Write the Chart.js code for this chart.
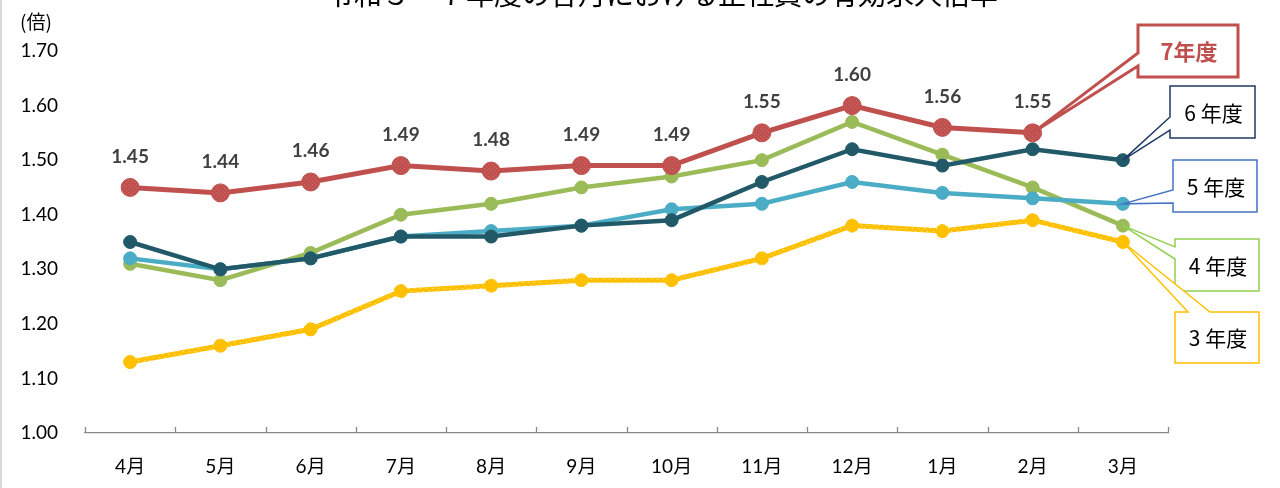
<!DOCTYPE html>
<html><head><meta charset="utf-8">
<script src="https://cdn.jsdelivr.net/npm/chart.js@4/dist/chart.umd.min.js"></script>
<style>
html,body{margin:0;padding:0;background:#fff;}
#wrap{position:relative;width:1280px;height:488px;overflow:hidden;}
#wrap:before{content:'';position:absolute;left:0;top:0;width:2px;height:488px;background:#d9d9d9;z-index:2}
canvas{display:block}
</style></head><body>
<div id="wrap"><canvas id="c" width="1280" height="488"></canvas></div>
<script>
// ---- data ----
const months = ['4月','5月','6月','7月','8月','9月','10月','11月','12月','1月','2月','3月'];
const r7 = [1.45,1.44,1.46,1.49,1.48,1.49,1.49,1.55,1.60,1.56,1.55,null];
const r6 = [1.35,1.30,1.32,1.36,1.36,1.38,1.39,1.46,1.52,1.49,1.52,1.50];
const r5 = [1.32,1.30,1.32,1.36,1.37,1.38,1.41,1.42,1.46,1.44,1.43,1.42];
const r4 = [1.31,1.28,1.33,1.40,1.42,1.45,1.47,1.50,1.57,1.51,1.45,1.38];
const r3 = [1.13,1.16,1.19,1.26,1.27,1.28,1.28,1.32,1.38,1.37,1.39,1.35];
const seriesNames = ['7年度','6 年度','5 年度','4 年度','3 年度'];
const yMin = 1.0, yMax = 1.7, yStep = 0.1;
const titleText = '令和３～７年度の各月における正社員の有効求人倍率';
const yUnit = '(倍)';

const LATIN = 'Lato, "Noto Sans CJK JP", sans-serif';
const CJK = '"Noto Sans CJK JP", sans-serif';

function pat(base, dot, size){
  const c=document.createElement('canvas'); c.width=c.height=size;
  const g=c.getContext('2d'); g.fillStyle=base; g.fillRect(0,0,size,size);
  g.fillStyle=dot; g.fillRect(0,0,1,1); g.fillRect(size/2,size/2,1,1);
  return g.createPattern(c,'repeat');
}
const redPat = pat('#C0504D','#CB6E6B',4);
const yelPat = pat('#FFC000','#FFE7A0',6);

// callout layout (annotation boxes)
const callouts = [
  {ds:0, idx:10, box:[1138,25,100,52], color:'#C0504D', lw:3, side:'left', base:[53,66], font:'bold 22px '+CJK, textColor:'#C0504D'},
  {ds:1, idx:11, box:[1170,86,85,52], color:'#1F3864', lw:1.5, side:'left', base:[117,130], font:'21px '+CJK, textColor:'#000'},
  {ds:2, idx:11, box:[1173,160,84,52], color:'#4472C4', lw:1.5, side:'left', base:[190,203], font:'21px '+CJK, textColor:'#000'},
  {ds:3, idx:11, box:[1175,239,84,52], color:'#92D050', lw:1.5, side:'left', base:[247,259], font:'21px '+CJK, textColor:'#000'},
  {ds:4, idx:11, box:[1175,312,84,51], color:'#FFC000', lw:1.5, side:'top', base:[1188,1210], font:'21px '+CJK, textColor:'#000'}
];

const deco = {
  id:'deco',
  beforeDatasetsDraw(chart){
    const ctx=chart.ctx, x=chart.scales.x, a=chart.chartArea;
    const n=x.ticks.length, step=(a.right-a.left)/n;
    ctx.save();
    ctx.strokeStyle='#898989'; ctx.lineWidth=1.3;
    for(let i=0;i<=n;i++){
      const px=Math.round(a.left+i*step)+0.5;
      ctx.beginPath(); ctx.moveTo(px,a.bottom); ctx.lineTo(px,a.bottom-6); ctx.stroke();
    }
    ctx.fillStyle='#000'; ctx.textAlign='center'; ctx.textBaseline='middle';
    ctx.font='28px '+CJK; ctx.fillText(titleText, 662, -6);
    ctx.textAlign='left'; ctx.font='19px '+CJK; ctx.fillText(yUnit, 20, 22);
    ctx.restore();
  },
  afterDatasetsDraw(chart){
    const ctx=chart.ctx;
    ctx.save();
    // data labels for 7年度
    const meta=chart.getDatasetMeta(0);
    ctx.font='bold 19px '+LATIN; ctx.fillStyle='#404040'; ctx.textAlign='center'; ctx.textBaseline='middle';
    meta.data.forEach((p,i)=>{ const v=r7[i]; if(v==null) return; ctx.fillText(v.toFixed(2), p.x, p.y-31); });
    // callouts
    callouts.forEach(c=>{
      const p=chart.getDatasetMeta(c.ds).data[c.idx];
      const [bx,by,w,h]=c.box;
      ctx.beginPath();
      if(c.side==='left'){
        ctx.moveTo(bx,by); ctx.lineTo(bx+w,by); ctx.lineTo(bx+w,by+h); ctx.lineTo(bx,by+h);
        ctx.lineTo(bx,c.base[1]); ctx.lineTo(p.x,p.y); ctx.lineTo(bx,c.base[0]); ctx.closePath();
      } else {
        ctx.moveTo(bx,by); ctx.lineTo(c.base[0],by); ctx.lineTo(p.x,p.y); ctx.lineTo(c.base[1],by);
        ctx.lineTo(bx+w,by); ctx.lineTo(bx+w,by+h); ctx.lineTo(bx,by+h); ctx.closePath();
      }
      ctx.fillStyle='#fff'; ctx.fill();
      ctx.lineJoin='miter'; ctx.strokeStyle=c.color; ctx.lineWidth=c.lw; ctx.stroke();
      ctx.fillStyle=c.textColor; ctx.font=c.font; ctx.textAlign='center'; ctx.textBaseline='middle';
      ctx.fillText(seriesNames[c.ds], bx+w/2+1, by+h/2+1);
    });
    ctx.restore();
  }
};

function ds(label, data, color, fill, r, bw){
  return {label, data, borderColor:color, backgroundColor:fill, borderWidth:bw, pointRadius:r,
    pointBackgroundColor:fill, pointBorderColor:color, pointBorderWidth:1, tension:0, spanGaps:false};
}

new Chart(document.getElementById('c'), {
  type:'line',
  data:{labels:months, datasets:[
    ds(seriesNames[0], r7, '#C0504D', redPat, 9, 5),
    ds(seriesNames[1], r6, '#215968', '#215968', 6.5, 4.5),
    ds(seriesNames[2], r5, '#4BACC6', '#4BACC6', 6.5, 4.5),
    ds(seriesNames[3], r4, '#9BBB59', '#9BBB59', 6.5, 4.5),
    ds(seriesNames[4], r3, yelPat, '#FFC000', 6.5, 5)
  ]},
  options:{
    responsive:false, animation:false, devicePixelRatio:1,
    layout:{padding:{left:0, top:51, right:112, bottom:0}},
    plugins:{legend:{display:false}, tooltip:{enabled:false}},
    scales:{
      x:{offset:true, grid:{display:false, drawTicks:false, offset:true},
         border:{display:true, color:'#898989', width:1.3},
         ticks:{padding:22, color:'#000', font:{family:LATIN, size:19}, maxRotation:0},
         afterFit(s){ s.height=55; }},
      y:{min:yMin, max:yMax, grid:{display:false, drawTicks:false}, border:{display:false},
         ticks:{stepSize:yStep, padding:27, color:'#000', font:{family:LATIN, size:19}, callback:v=>Number(v).toFixed(2)},
         afterFit(s){ s.width=85; }}
    }
  },
  plugins:[deco]
});
</script>
</body></html>
